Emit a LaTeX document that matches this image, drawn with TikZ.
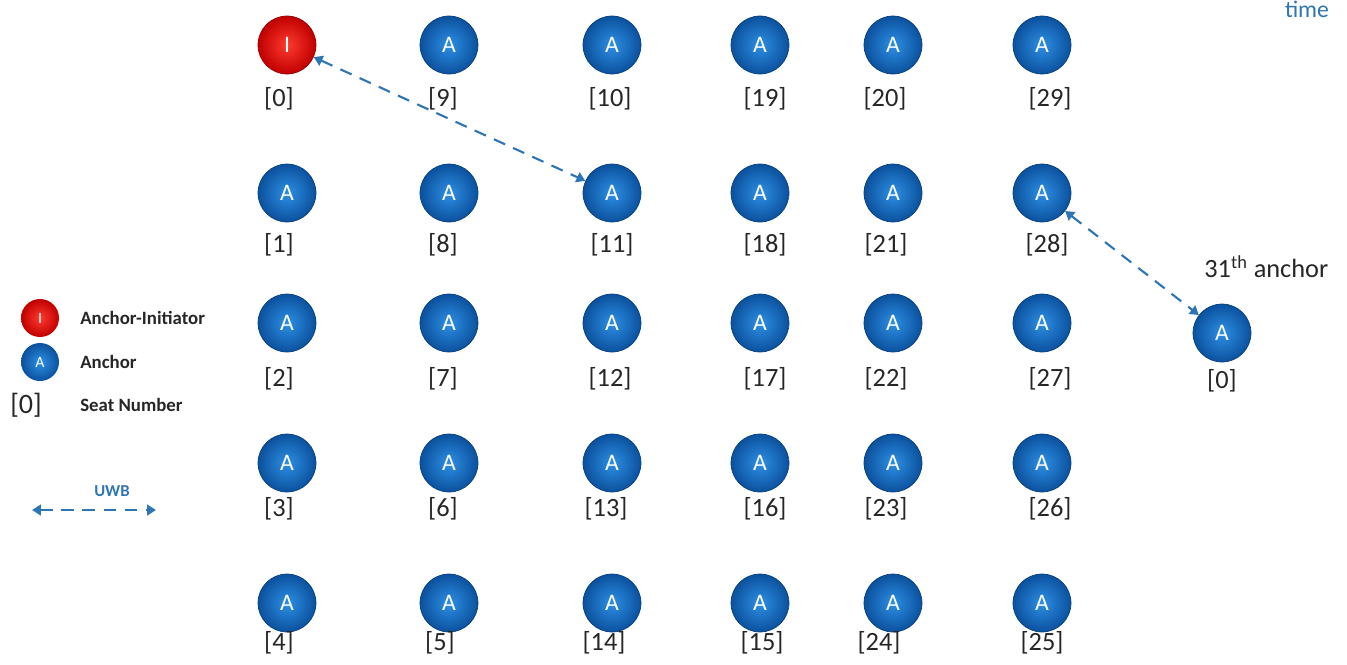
\documentclass[tikz,border=0pt]{standalone}
\usepackage{fontspec}
\setmainfont{Carlito}
\usetikzlibrary{arrows.meta}
\definecolor{ancin}{HTML}{2E8FE4}
\definecolor{ancout}{HTML}{0B519E}
\definecolor{iniin}{HTML}{FF3B2F}
\definecolor{iniout}{HTML}{C00000}
\definecolor{uwbblue}{HTML}{2E75B6}
\definecolor{seatgray}{HTML}{262626}
\tikzset{
  anc/.style={circle,minimum size=1.16cm,inner sep=0pt,inner color=ancin,outer color=ancout,
    draw=ancout!80!black,thin,text=white,font=\fontsize{13.5}{15}\selectfont},
  init/.style={anc,inner color=iniin,outer color=iniout,draw=iniout!80!black},
  seat/.style={text=seatgray,font=\fontsize{15}{17}\selectfont},
  legdot/.style={circle,minimum size=0.76cm,inner sep=0pt,text=white,font=\fontsize{9}{10}\selectfont},
  legtext/.style={anchor=west,inner sep=0pt,text=seatgray,font=\fontsize{10.7}{12}\selectfont\bfseries},
  uwb/.style={uwbblue,very thick,dash pattern=on 7pt off 5pt,{Triangle[width=6pt,length=5pt]}-{Triangle[width=6pt,length=5pt]}}
}
\begin{document}
\begin{tikzpicture}[x=0.02cm,y=-0.02cm]
\useasboundingbox (0,0) rectangle (1347,664);
% column 1
\node[init] (n0) at (287,45) {I};
\node[anc] (n1) at (287,193) {A};
\node[anc] (n2) at (287,323) {A};
\node[anc] (n3) at (287,463) {A};
\node[anc] (n4) at (287,603) {A};
\node[seat] (s0) at (279,99) {[0]};
\node[seat] (s1) at (279,245) {[1]};
\node[seat] (s2) at (279,379) {[2]};
\node[seat] (s3) at (279,509) {[3]};
\node[seat] (s4) at (279,643) {[4]};
% column 2
\node[anc] (n9) at (449,45) {A};
\node[anc] (n8) at (449,193) {A};
\node[anc] (n7) at (449,323) {A};
\node[anc] (n6) at (449,463) {A};
\node[anc] (n5) at (449,603) {A};
\node[seat] (s9) at (443,99) {[9]};
\node[seat] (s8) at (443,245) {[8]};
\node[seat] (s7) at (443,379) {[7]};
\node[seat] (s6) at (443,509) {[6]};
\node[seat] (s5) at (440,643) {[5]};
% column 3
\node[anc] (n10) at (612,45) {A};
\node[anc] (n11) at (612,193) {A};
\node[anc] (n12) at (612,323) {A};
\node[anc] (n13) at (612,463) {A};
\node[anc] (n14) at (612,603) {A};
\node[seat] (s10) at (610,99) {[10]};
\node[seat] (s11) at (612,245) {[11]};
\node[seat] (s12) at (610,379) {[12]};
\node[seat] (s13) at (606,509) {[13]};
\node[seat] (s14) at (604,643) {[14]};
% column 4
\node[anc] (n19) at (760,45) {A};
\node[anc] (n18) at (760,193) {A};
\node[anc] (n17) at (760,323) {A};
\node[anc] (n16) at (760,463) {A};
\node[anc] (n15) at (760,603) {A};
\node[seat] (s19) at (765,99) {[19]};
\node[seat] (s18) at (765,245) {[18]};
\node[seat] (s17) at (765,379) {[17]};
\node[seat] (s16) at (765,509) {[16]};
\node[seat] (s15) at (762,643) {[15]};
% column 5
\node[anc] (n20) at (893,45) {A};
\node[anc] (n21) at (893,193) {A};
\node[anc] (n22) at (893,323) {A};
\node[anc] (n23) at (893,463) {A};
\node[anc] (n24) at (893,603) {A};
\node[seat] (s20) at (885,99) {[20]};
\node[seat] (s21) at (886,245) {[21]};
\node[seat] (s22) at (886,379) {[22]};
\node[seat] (s23) at (886,509) {[23]};
\node[seat] (s24) at (879,643) {[24]};
% column 6
\node[anc] (n29) at (1042,45) {A};
\node[anc] (n28) at (1042,193) {A};
\node[anc] (n27) at (1042,323) {A};
\node[anc] (n26) at (1042,463) {A};
\node[anc] (n25) at (1042,603) {A};
\node[seat] (s29) at (1050,99) {[29]};
\node[seat] (s28) at (1047,245) {[28]};
\node[seat] (s27) at (1050,379) {[27]};
\node[seat] (s26) at (1050,509) {[26]};
\node[seat] (s25) at (1042,643) {[25]};
% 31th anchor
\node[anc] (n31) at (1222,333) {A};
\node[seat] (s31) at (1222,381) {[0]};
\node[seat,anchor=west,inner sep=0pt] (t31) at (1204,267) {31\textsuperscript{th} anchor};
% UWB links
\draw[uwb] (n0) -- (n11);
\draw[uwb] (n28) -- (n31);
% time
\node[text=uwbblue,font=\fontsize{13.5}{15}\selectfont] (time) at (1307,9) {time};
% legend
\node[legdot,inner color=iniin,outer color=iniout] (li) at (40,318) {I};
\node[legtext] (lit) at (80,318) {Anchor-Initiator};
\node[legdot,inner color=ancin,outer color=ancout] (la) at (40,362) {A};
\node[legtext] (lat) at (80,362) {Anchor};
\node[seat,font=\fontsize{16}{18}\selectfont] (ls) at (26,405) {[0]};
\node[legtext] (lst) at (80,405) {Seat Number};
\node[text=uwbblue,font=\fontsize{9.5}{11}\selectfont\bfseries] (lu) at (112,491) {UWB};
\coordinate (ua) at (32,510);
\coordinate (ub) at (156,510);
\draw[uwb] (ua) -- (ub);
\end{tikzpicture}
\end{document}
